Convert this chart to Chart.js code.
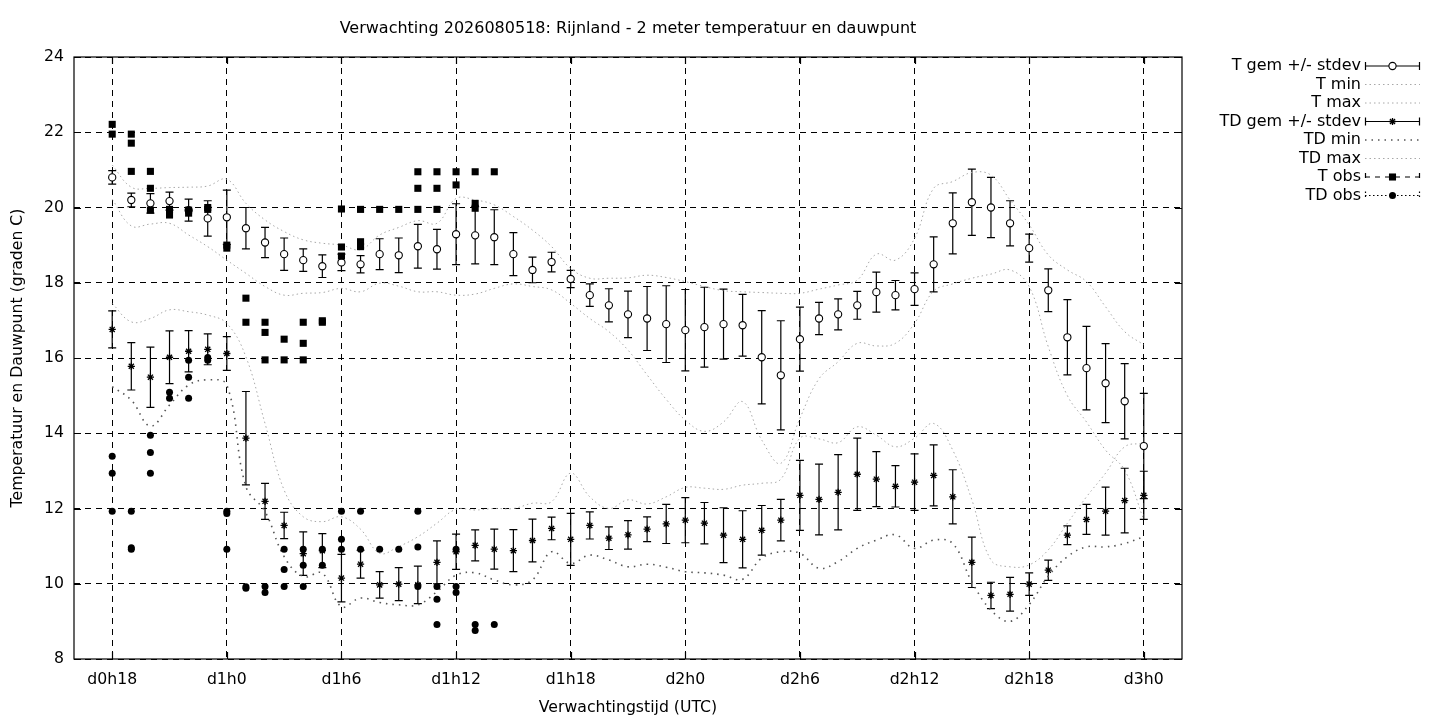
<!DOCTYPE html>
<html>
<head>
<meta charset="utf-8">
<title>Verwachting Rijnland</title>
<script src="https://cdn.jsdelivr.net/npm/chart.js@4.4.1/dist/chart.umd.min.js"></script>
<style>
  html, body { margin: 0; padding: 0; background: #fff; }
</style>
</head>
<body>
<canvas id="chart" width="1440" height="720"></canvas>
<script>
// forecast hours, counted from d0h0
const hours = [18,19,20,21,22,23,24,25,26,27,28,29,30,31,32,33,34,35,36,37,38,39,40,41,42,43,44,45,
    46,47,48,49,50,51,52,53,54,55,56,57,58,59,60,61,62,63,64,65,66,67,68,69,70,71,72]

const tMean = [20.80,20.20,20.11,20.17,19.93,19.71,19.74,19.45,19.07,18.76,
    18.60,18.44,18.54,18.49,18.76,18.73,18.97,18.89,19.29,19.26,
    19.21,18.76,18.34,18.55,18.10,17.67,17.40,17.16,17.05,16.90,
    16.74,16.82,16.90,16.87,16.02,15.54,16.50,17.05,17.16,17.40,
    17.75,17.67,17.83,18.49,19.58,20.14,20.00,19.58,18.92,17.80,
    16.55,15.73,15.33,14.85,13.66]
const tStd = [0.18,0.18,0.26,0.24,0.29,0.47,0.72,0.55,0.40,0.43,
    0.30,0.30,0.22,0.23,0.41,0.46,0.58,0.53,0.81,0.76,
    0.73,0.57,0.34,0.26,0.23,0.30,0.44,0.62,0.85,1.02,
    1.08,1.06,0.93,0.82,1.24,1.45,0.85,0.43,0.41,0.37,
    0.53,0.39,0.43,0.73,0.81,0.88,0.80,0.60,0.37,0.57,
    1.00,1.11,1.05,1.00,1.40]
const tMin = [20.22,19.51,19.56,19.58,19.27,18.96,18.60,18.25,17.90,17.67,
    17.72,17.74,17.85,17.76,17.99,17.91,17.76,17.76,17.67,17.70,
    17.85,17.97,17.90,17.81,17.45,17.05,16.70,16.21,15.55,14.90,
    14.35,14.05,14.30,14.84,13.82,13.20,14.40,15.45,15.90,16.39,
    16.32,16.39,16.92,17.78,17.97,18.12,18.23,18.34,17.90,16.30,
    15.00,14.30,13.55,13.02,11.70]
const tMax = [21.13,20.54,20.51,20.53,20.54,20.57,20.75,20.11,19.67,19.36,
    19.14,19.05,19.00,18.88,19.27,19.47,19.65,19.58,20.24,20.20,
    20.07,19.76,19.40,18.96,18.38,18.12,18.12,18.13,18.20,18.14,
    18.03,17.90,17.79,17.76,17.74,17.72,17.72,17.83,17.94,18.07,
    18.76,18.60,19.18,20.51,20.69,20.93,20.86,20.20,19.54,18.74,
    18.34,18.03,17.36,16.70,16.35]

const tdMean = [16.76,15.78,15.49,16.02,16.18,16.23,16.12,13.87,12.19,11.55,
    10.80,10.88,10.15,10.52,9.97,9.99,9.97,10.57,10.85,11.02,
    10.92,10.88,11.15,11.47,11.18,11.55,11.21,11.30,11.45,11.59,
    11.69,11.61,11.29,11.18,11.42,11.69,12.35,12.24,12.43,12.91,
    12.78,12.59,12.70,12.88,12.31,10.57,9.69,9.72,9.99,10.36,
    11.29,11.71,11.93,12.21,12.35]
const tdStd = [0.49,0.63,0.80,0.70,0.55,0.41,0.45,1.24,0.48,0.35,
    0.58,0.45,0.63,0.37,0.35,0.44,0.50,0.57,0.47,0.41,
    0.53,0.56,0.57,0.30,0.69,0.36,0.30,0.38,0.33,0.52,
    0.60,0.55,0.73,0.76,0.66,0.55,0.93,0.94,1.00,0.96,
    0.73,0.55,0.75,0.81,0.72,0.67,0.35,0.45,0.30,0.27,
    0.25,0.40,0.64,0.86,0.64]
const tdMin = [15.24,14.88,14.19,14.75,15.28,15.42,15.28,12.58,11.92,10.72,
    10.19,10.28,9.39,9.62,9.50,9.44,9.44,9.79,10.23,10.29,
    10.10,9.97,10.10,10.85,10.54,10.76,10.63,10.45,10.52,10.44,
    10.32,10.29,10.23,10.12,10.68,10.85,10.81,10.41,10.59,10.94,
    11.16,11.30,10.94,11.16,11.07,10.05,9.30,9.00,9.45,10.20,
    10.72,10.98,10.98,11.07,11.25]
const tdMax = [17.45,16.96,17.05,17.28,17.23,17.14,16.92,16.03,14.26,12.49,
    11.78,11.65,11.78,11.45,10.81,10.99,11.25,11.61,11.98,11.96,
    12.00,12.00,12.14,12.18,12.94,12.31,12.00,12.23,12.12,12.31,
    12.56,12.54,12.51,12.62,12.67,12.78,13.87,13.85,13.75,14.17,
    13.95,13.64,13.87,14.26,13.55,12.23,10.63,10.45,10.50,10.90,
    11.61,12.31,12.94,13.64,13.73]

// station observations, several per hour
const obsHours = [18,19,20,21,22,23,24,25,26,27,28,29,30,31,32,33,34,35,36,37,38]
const tObs = [
    [22.21, 21.95], [21.95, 21.71, 20.96], [20.96, 20.51, 19.93], [19.95, 19.80],
    [19.93, 19.85], [20.00, 19.95], [19.00, 18.92], [17.59, 16.95],
    [16.95, 16.68, 15.95], [16.50, 15.95], [16.95, 16.39, 15.95], [16.99, 16.95],
    [19.96, 18.95, 18.71], [19.95, 19.09, 18.96], [19.95], [19.95],
    [20.95, 20.51, 19.95], [20.95, 20.51, 19.95], [20.95, 20.60], [20.95, 20.11, 19.98],
    [20.95]
]
const tdObs = [
    [13.39, 12.94, 11.93], [11.93, 10.96, 10.92], [13.95, 13.49, 12.94], [15.09, 14.93],
    [15.94, 15.49, 14.93], [16.01, 15.94], [11.93, 11.87, 10.92], [9.92, 9.88],
    [9.93, 9.77], [10.92, 10.38, 9.93], [10.92, 10.49, 9.93], [10.92, 10.49],
    [11.93, 11.18, 10.92], [11.93, 10.92], [10.92], [10.92],
    [11.93, 10.98, 9.93], [9.93, 9.59, 8.92], [10.92, 9.93, 9.77], [8.92, 8.76],
    [8.92]
]

const xTicks = [18, 24, 30, 36, 42, 48, 54, 60, 66, 72]
const yTicks = [8, 10, 12, 14, 16, 18, 20, 22, 24]

const FONT = 'DejaVu Sans'
const FSIZE = 15.7
const KEYSIZE = 16

function points(values) {
    return values.map((v, i) => ({ x: hours[i], y: v }))
}

function obsPoints(obs) {
    const pts = []
    obs.forEach((list, i) => {
        list.forEach(v => pts.push({ x: obsHours[i], y: v }))
    })
    return pts
}

function hourLabel(h) {
    return 'd' + Math.floor(h / 24) + 'h' + (h % 24)
}

// gnuplot style error bars, drawn under the markers of the dataset
const errorBars = {
    id: 'errorBars',
    beforeDatasetDraw(chart, args) {
        const ds = chart.data.datasets[args.index]
        if (!ds.errors) return
        const ctx = chart.ctx
        const x = chart.scales.x
        const y = chart.scales.y
        ctx.save()
        ctx.strokeStyle = '#000'
        ctx.lineWidth = 1.2
        ds.data.forEach((p, i) => {
            const px = x.getPixelForValue(p.x)
            const top = y.getPixelForValue(p.y + ds.errors[i])
            const bot = y.getPixelForValue(p.y - ds.errors[i])
            ctx.beginPath()
            ctx.moveTo(px, top)
            ctx.lineTo(px, bot)
            ctx.moveTo(px - 4, top)
            ctx.lineTo(px + 4, top)
            ctx.moveTo(px - 4, bot)
            ctx.lineTo(px + 4, bot)
            ctx.stroke()
        })
        ctx.restore()
    }
}

// plot border with inward tick marks
const frame = {
    id: 'frame',
    beforeDatasetsDraw(chart) {
        const { ctx, chartArea: a } = chart
        const x = chart.scales.x
        const y = chart.scales.y
        ctx.save()
        ctx.strokeStyle = '#000'
        ctx.lineWidth = 1.2
        ctx.setLineDash([])
        ctx.strokeRect(a.left, a.top, a.right - a.left, a.bottom - a.top)
        ctx.beginPath()
        xTicks.forEach(t => {
            const px = Math.round(x.getPixelForValue(t)) + 0.5
            ctx.moveTo(px, a.bottom); ctx.lineTo(px, a.bottom - 7)
            ctx.moveTo(px, a.top); ctx.lineTo(px, a.top + 7)
        })
        yTicks.forEach(t => {
            const py = Math.round(y.getPixelForValue(t)) + 0.5
            ctx.moveTo(a.left, py); ctx.lineTo(a.left + 7, py)
            ctx.moveTo(a.right, py); ctx.lineTo(a.right - 7, py)
        })
        ctx.stroke()
        ctx.restore()
    }
}

// title and the gnuplot like key on the right
const keyAndTitle = {
    id: 'keyAndTitle',
    afterDraw(chart) {
        const ctx = chart.ctx
        const a = chart.chartArea
        ctx.save()
        ctx.fillStyle = '#000'
        ctx.font = KEYSIZE + 'px "' + FONT + '"'
        ctx.textAlign = 'center'
        ctx.textBaseline = 'middle'
        ctx.fillText('Verwachting 2026080518: Rijnland - 2 meter temperatuur en dauwpunt', (a.left + a.right) / 2, 29)

        const x0 = 1365, x1 = 1420, xm = 1392.5
        chart.data.datasets.forEach((ds, i) => {
            const yy = 66 + i * 18.5
            ctx.fillStyle = '#000'
            ctx.textAlign = 'right'
            ctx.fillText(ds.label, 1361, yy)

            ctx.save()
            if (ds.showLine) {
                ctx.strokeStyle = ds.borderColor
                ctx.lineWidth = ds.borderWidth
                ctx.setLineDash(ds.borderDash || [])
                ctx.beginPath(); ctx.moveTo(x0, yy); ctx.lineTo(x1, yy); ctx.stroke()
            } else {
                ctx.strokeStyle = '#000'
                ctx.lineWidth = 1.2
                ctx.setLineDash(ds.keyDash || [])
                ctx.beginPath()
                ctx.moveTo(x0, yy); ctx.lineTo(x1, yy)
                ctx.moveTo(x0 + 0.5, yy - 4); ctx.lineTo(x0 + 0.5, yy + 4)
                ctx.moveTo(x1 - 0.5, yy - 4); ctx.lineTo(x1 - 0.5, yy + 4)
                ctx.stroke()
                ctx.setLineDash([])
                ctx.fillStyle = ds.pointBackgroundColor
                ctx.strokeStyle = ds.pointBorderColor
                ctx.lineWidth = ds.pointBorderWidth
                Chart.helpers.drawPoint(ctx, {
                    pointStyle: ds.pointStyle, radius: ds.pointRadius,
                    borderWidth: ds.pointBorderWidth, rotation: 0
                }, xm, yy)
            }
            ctx.restore()
        })
        ctx.restore()
    }
}

Chart.defaults.font.family = FONT
Chart.defaults.font.size = FSIZE
Chart.defaults.color = '#000'

const greyDots = { borderColor: '#a8a8a8', borderWidth: 1, borderDash: [1.5, 3] }

const datasets = [
    {
        label: 'T gem +/- stdev', data: points(tMean), errors: tStd, order: 8,
        pointStyle: 'circle', pointRadius: 3.6, pointBackgroundColor: '#fff',
        pointBorderColor: '#000', pointBorderWidth: 1.1
    },
    Object.assign({ label: 'T min', data: points(tMin), order: 7 }, greyDots),
    Object.assign({ label: 'T max', data: points(tMax), order: 6 }, greyDots),
    {
        label: 'TD gem +/- stdev', data: points(tdMean), errors: tdStd, order: 5,
        pointStyle: 'star', pointRadius: 3.6, pointBackgroundColor: '#000',
        pointBorderColor: '#000', pointBorderWidth: 1.3
    },
    { label: 'TD min', data: points(tdMin), order: 4, borderColor: '#555', borderWidth: 1.6, borderDash: [1.5, 5] },
    Object.assign({ label: 'TD max', data: points(tdMax), order: 3 }, greyDots),
    {
        label: 'T obs', data: obsPoints(tObs), order: 2, keyDash: [5, 5],
        pointStyle: 'rect', pointRadius: 5, pointBackgroundColor: '#000',
        pointBorderColor: '#000', pointBorderWidth: 0
    },
    {
        label: 'TD obs', data: obsPoints(tdObs), order: 1, keyDash: [1.5, 2.5],
        pointStyle: 'circle', pointRadius: 3.5, pointBackgroundColor: '#000',
        pointBorderColor: '#000', pointBorderWidth: 0
    }
]
datasets.forEach(ds => {
    if (ds.borderDash) {
        ds.showLine = true
        ds.pointRadius = 0
        ds.tension = 0.4
        ds.fill = false
    }
})

const chart = new Chart(document.getElementById('chart'), {
    type: 'scatter',
    data: { datasets: datasets },
    options: {
        responsive: false,
        animation: false,
        devicePixelRatio: 1,
        layout: { padding: { top: 57, right: 258, bottom: 0, left: 0 } },
        plugins: {
            legend: { display: false },
            tooltip: { enabled: false },
            title: { display: false }
        },
        scales: {
            x: {
                type: 'linear', min: 16, max: 74,
                afterBuildTicks: s => { s.ticks = xTicks.map(v => ({ value: v })) },
                afterFit: s => { s.height = 61 },
                grid: { color: '#000', lineWidth: 1, drawTicks: false, borderDash: [6, 5] },
                border: { display: false, dash: [6, 5] },
                ticks: { color: '#000', padding: 12, maxRotation: 0, autoSkip: false, callback: v => hourLabel(v) },
                title: { display: true, text: 'Verwachtingstijd (UTC)', color: '#000', padding: { top: 0, bottom: 3 } }
            },
            y: {
                type: 'linear', min: 8, max: 24,
                afterBuildTicks: s => { s.ticks = yTicks.map(v => ({ value: v })) },
                afterFit: s => { s.width = 74 },
                grid: { color: '#000', lineWidth: 1, drawTicks: false, borderDash: [6, 5] },
                border: { display: false, dash: [6, 5] },
                ticks: { color: '#000', padding: 10, autoSkip: false },
                title: { display: true, text: 'Temperatuur en Dauwpunt (graden C)', color: '#000', padding: { top: 9, bottom: 0 } }
            }
        }
    },
    plugins: [errorBars, frame, keyAndTitle]
})
</script>
</body>
</html>
